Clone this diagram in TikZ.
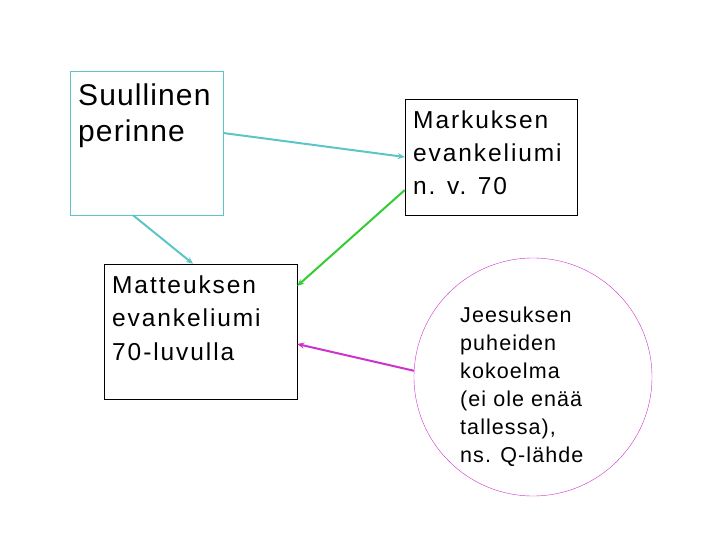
\documentclass[tikz,border=0pt]{standalone}
\usepackage{fontspec}
\setmainfont{Liberation Sans}
\usetikzlibrary{arrows.meta}
\definecolor{tealline}{HTML}{5CC6C6}
\definecolor{greenline}{HTML}{33CC33}
\definecolor{pinkline}{HTML}{CC33CC}

\begin{document}
\begin{tikzpicture}[x = 1pt, y = -1pt,
    box/.style = {draw, rectangle, inner sep = 0pt},
    txt/.style = {anchor = base west, inner sep = 0pt, align = left},
    link/.style = {line width = 2pt, -{Stealth[length = 7pt, width = 6pt]}}]
        \useasboundingbox (0, 0) rectangle (720, 540);

        % Nodes
        \node [box, draw = tealline, minimum width = 153pt, minimum height = 144pt] (suul) at (146.5, 143) {};
        \node [box, minimum width = 172pt, minimum height = 116pt] (mark) at (491, 157) {};
        \node [box, minimum width = 193pt, minimum height = 135pt] (matt) at (200.5, 331.5) {};
        \node [draw = pinkline, circle, minimum size = 238pt, inner sep = 0pt] (q) at (533, 377) {};

        % Texts (anchored at the last baseline)
        \node [txt, font = \fontsize{30}{36}\selectfont\addfontfeature{LetterSpace=3.7}] (suultxt) at (78, 142) {Suullinen\\perinne};
        \node [txt, font = \fontsize{24.5}{33.3}\selectfont\addfontfeature{LetterSpace=7.8}] (marktxt) at (413, 195) {Markuksen\\evankeliumi\\n. v. 70};
        \node [txt, font = \fontsize{24.5}{33.3}\selectfont\addfontfeature{LetterSpace=7.8}] (matttxt) at (112, 360) {Matteuksen\\evankeliumi\\70-luvulla};
        \node [txt, font = \fontsize{21.5}{28}\selectfont\addfontfeature{LetterSpace=5}] (qtxt) at (460, 462) {Jeesuksen\\puheiden\\kokoelma\\(ei ole enää\\tallessa),\\ns. Q-lähde};

        % Lines
        \draw [link, tealline] ([yshift = 10pt]suul.east) -- (mark.west);
        \draw [link, tealline] ([xshift = -13.5pt]suul.south) -- ([xshift = -7.5pt]matt.north);
        \draw [link, greenline] ([yshift = -33pt]mark.west) -- ([yshift = 45.5pt]matt.east);
        \draw [link, pinkline] (q.177) -- ([yshift = -12.5pt]matt.east);

    \end{tikzpicture}
\end{document}
